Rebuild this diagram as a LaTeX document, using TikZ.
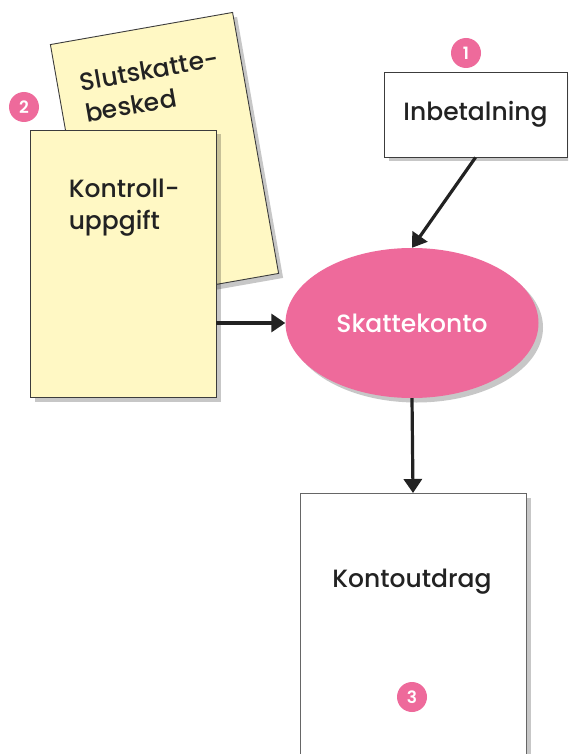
\documentclass[tikz,border=0pt]{standalone}
\usepackage{fontspec}
\setmainfont{Poppins}[UprightFont=* Medium, BoldFont=* SemiBold]
\usetikzlibrary{shadows,arrows.meta,calc,shapes.geometric}
\definecolor{pinkc}{HTML}{EE6A9B}
\definecolor{paper}{HTML}{FFF8C4}
\definecolor{ink}{HTML}{222222}
\definecolor{edge}{HTML}{3C3C3C}
\begin{document}
\begin{tikzpicture}[x=1pt,y=-1pt,
  sheet/.style={draw=edge, line width=0.9pt, inner sep=0pt,
    drop shadow={shadow xshift=4.5pt,shadow yshift=-4.5pt,fill=black,opacity=0.22}},
  lbl/.style={font=\fontsize{25}{32}\selectfont, text=ink, inner sep=0pt},
  num/.style={circle, fill=pinkc, text=white, font=\fontsize{17}{17}\selectfont\bfseries,
    minimum size=30pt, inner sep=0pt},
  arr/.style={draw=ink, line width=3.2pt, -{Triangle[length=14pt,width=18pt]}}]
\fill[white] (0,0) rectangle (568,754);
\useasboundingbox (0,0) rectangle (568,754);
\clip (0,0) rectangle (568,754);
% rotated sheet
\node[sheet, fill=paper, rotate=10, minimum width=185pt, minimum height=265pt] (slut) at (164.5,159) {};
\begin{scope}[shift={(slut.north west)}, rotate=10, transform shape]
  \node[lbl, anchor=north west, align=left] (slutlbl) at (23,33) {Slutskatte-\\besked};
\end{scope}
% front sheet
\node[sheet, fill=paper, minimum width=186pt, minimum height=267pt] (kon) at (123,263.5) {};
\node[lbl, anchor=north west, align=left] (konlbl) at ($(kon.north west)+(39,49)$) {Kontroll-\\uppgift};
\node[num] (n2) at (24,107) {2};
% payment
\node[sheet, fill=white, lbl, minimum width=183pt, minimum height=85pt] (inb) at (475.5,114.5) {Inbetalning};
\node[num] (n1) at (466,53) {1};
% account
\node[ellipse, fill=pinkc, minimum width=253pt, minimum height=150pt, inner sep=0pt,
  text=white, font=\fontsize{25}{32}\selectfont,
  drop shadow={shadow xshift=4.5pt,shadow yshift=-4.5pt,fill=black,opacity=0.22}] (sk) at (412,323) {Skattekonto};
% statement
\node[sheet, draw=black!60, fill=white, minimum width=226pt, minimum height=320pt, anchor=north] (ko) at (413,493) {};
\node[lbl] (kolbl) at (412,582) {Kontoutdrag};
\node[num] (n3) at (412,697) {3};
% arrows
\draw[arr] (inb.south) -- (sk.north);
\draw[arr] (sk.west -| kon.east) -- (sk.west);
\draw[arr] (sk.south) -- (ko.north);
\end{tikzpicture}
\end{document}
